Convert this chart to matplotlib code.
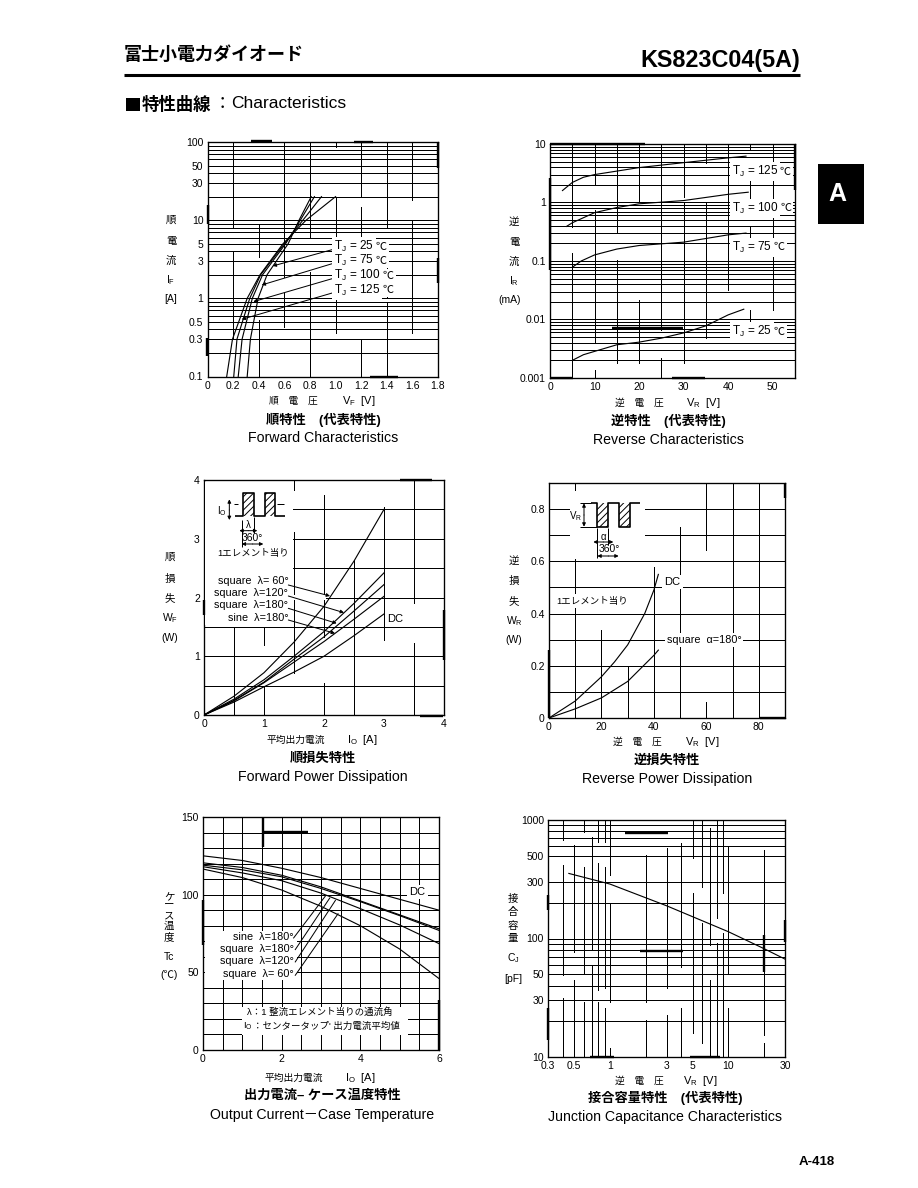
import matplotlib
matplotlib.use("Agg")
import matplotlib.pyplot as plt
from matplotlib.patches import Rectangle
from matplotlib.ticker import FixedLocator, FixedFormatter, NullFormatter

plt.rcParams['font.family'] = ['Liberation Sans', 'Noto Sans CJK JP', 'DejaVu Sans']
plt.rcParams['mathtext.default'] = 'regular'
plt.rcParams['hatch.linewidth'] = 0.7

W, H = 918, 1188
LW = 0.72
K = 'black'

# ---------- data ----------
fwd_i   = [0.1, 0.3, 1, 2, 5, 10, 20]
fwd_t25 = [0.31, 0.335, 0.395, 0.465, 0.63, 0.715, 0.81]
fwd_t75 = [0.24, 0.27, 0.35, 0.43, 0.61, 0.725, 0.835]
fwd_t100 = [0.205, 0.23, 0.33, 0.415, 0.60, 0.745, 0.89]
fwd_t125 = [0.15, 0.195, 0.31, 0.41, 0.59, 0.77, 1.0]

rev_v125 = [2.8, 5, 7.5, 10, 20, 30, 40, 44]
rev_i125 = [1.6, 2.2, 2.7, 3.0, 3.95, 4.8, 5.8, 6.2]
rev_v100 = [3.7, 5, 10, 15, 20, 30, 40, 44.5]
rev_i100 = [0.39, 0.45, 0.67, 0.82, 0.95, 1.08, 1.38, 1.5]
rev_v75 = [5, 7, 10, 15, 20, 30, 40, 44]
rev_i75 = [0.078, 0.1, 0.127, 0.16, 0.184, 0.21, 0.28, 0.3]
rev_v25 = [5, 7.5, 10, 15, 20, 25, 30, 35, 40, 43.5]
rev_i25 = [0.002, 0.0025, 0.00285, 0.0037, 0.0041, 0.0048, 0.0059, 0.0078, 0.012, 0.015]

fpd_io = [0, 0.5, 1, 1.5, 2, 2.5, 3]
fpd_dc = [0, 0.22, 0.48, 0.73, 1.0, 1.35, 1.72]
fpd_sine180 = [0, 0.24, 0.55, 0.90, 1.25, 1.63, 2.02]
fpd_sq180 = [0, 0.25, 0.56, 0.95, 1.33, 1.77, 2.22]
fpd_sq120 = [0, 0.27, 0.60, 1.00, 1.42, 1.90, 2.42]
fpd_sq60 = [0, 0.32, 0.72, 1.24, 1.85, 2.62, 3.5]

rpd_v_dc = [0, 10, 20, 25, 30, 36.5, 40, 41.7]
rpd_w_dc = [0, 0.065, 0.158, 0.215, 0.28, 0.40, 0.49, 0.55]
rpd_v_sq = [0, 10, 20, 30, 35, 40, 41.7]
rpd_w_sq = [0, 0.035, 0.077, 0.14, 0.19, 0.24, 0.26]

oc_io = [0, 1, 2, 3, 4, 5, 6]
oc_dc = [125, 122, 117, 111, 104, 97, 90]
oc_sine180 = [120.5, 117.5, 112.5, 105, 96, 87, 78]
oc_sq180 = [119, 116, 111.5, 104, 95.5, 86.5, 77]
oc_sq120 = [118, 114, 109, 101, 91, 80.5, 68.5]
oc_sq60 = [116.5, 111, 103, 92.5, 80, 65, 46]

cap_v = [0.45, 1, 3, 10, 20, 30]
cap_c = [354, 288, 189, 114, 82, 67]

fig = plt.figure(figsize=(W / 100, H / 100), dpi=100, facecolor='white')


def make_axes(box):
    x0, x1, y0, y1 = box
    ax = fig.add_axes([x0 / W, 1 - y1 / H, (x1 - x0) / W, (y1 - y0) / H])
    for s in ax.spines.values():
        s.set_linewidth(LW + 0.25)
    ax.tick_params(which='both', length=0, labelsize=7.5, pad=3)
    ax.set_axisbelow(True)
    ax.box_px = box
    return ax


def finish(ax, xl, yl, xt, yt, xg, yg, xs=None, ys=None):
    if xs:
        ax.set_xscale('log')
    if ys:
        ax.set_yscale('log')
    ax.set_xlim(*xl)
    ax.set_ylim(*yl)
    ax.xaxis.set_major_locator(FixedLocator([v for v, _ in xt]))
    ax.xaxis.set_major_formatter(FixedFormatter([t for _, t in xt]))
    ax.yaxis.set_major_locator(FixedLocator([v for v, _ in yt]))
    ax.yaxis.set_major_formatter(FixedFormatter([t for _, t in yt]))
    ax.xaxis.set_minor_formatter(NullFormatter())
    ax.yaxis.set_minor_formatter(NullFormatter())
    for v in xg:
        ax.axvline(v, color=K, lw=LW, zorder=1, antialiased=False)
    for v in yg:
        ax.axhline(v, color=K, lw=LW, zorder=1, antialiased=False)
    ax.xaxis.set_minor_locator(FixedLocator([]))
    ax.yaxis.set_minor_locator(FixedLocator([]))


def broken_verticals(ax, oy, table):
    """Draw vertical rules with the gaps of the scan; spans are 3x crop rows."""
    _, _, y0, y1 = ax.box_px
    for v, spans in table:
        for a, b in spans:
            top = (oy + a / 3 - y0) / (y1 - y0)
            bot = (oy + b / 3 - y0) / (y1 - y0)
            ax.axvline(v, ymin=max(0, 1 - bot), ymax=min(1, 1 - top), color=K, lw=LW, zorder=1, antialiased=False)


def curve(ax, x, y):
    ax.plot(x, y, color=K, lw=LW + 0.1, zorder=3, solid_joinstyle='round')


def logs(a, b):
    out = []
    d = a
    while d < b:
        out += [d * m for m in range(1, 10)]
        d *= 10
    return out


# Forward characteristics
ax1 = make_axes((207.5, 438, 142, 376.5))
finish(ax1, (0, 1.8), (0.1, 100),
       [(i * 0.2, t) for i, t in enumerate(['0', '0.2', '0.4', '0.6', '0.8', '1.0', '1.2', '1.4', '1.6', '1.8'])],
       [(0.1, '0.1'), (0.3, '0.3'), (0.5, '0.5'), (1, '1'), (3, '3'), (5, '5'), (10, '10'), (30, '30'), (50, '50'), (100, '100')],
       [], logs(0.1, 100), ys=True)
broken_verticals(ax1, 130, [
    (0.2, [(35, 290), (365, 625)]), (0.4, [(285, 380), (570, 740)]),
    (0.6, [(35, 440), (490, 590)]), (0.8, [(35, 325), (425, 740)]),
    (1.0, [(35, 50), (200, 330), (500, 610)]), (1.2, [(35, 200), (230, 490), (630, 740)]),
    (1.4, [(35, 290), (390, 500), (520, 740)]), (1.6, [(35, 210), (270, 610)]),
])
for s in (fwd_t25, fwd_t75, fwd_t100, fwd_t125):
    curve(ax1, s, fwd_i)

# Reverse characteristics
ax2 = make_axes((550, 795, 144, 378))
finish(ax2, (0, 55), (0.001, 10),
       [(v, str(v)) for v in (0, 10, 20, 30, 40, 50)],
       [(0.001, '0.001'), (0.01, '0.01'), (0.1, '0.1'), (1, '1'), (10, '10')],
       [], logs(0.001, 10), ys=True)
broken_verticals(ax2, 130, [
    (5, [(42, 290), (370, 745)]), (10, [(42, 165), (240, 640), (720, 745)]),
    (15, [(42, 310), (390, 700)]), (20, [(42, 215), (510, 700)]),
    (25, [(42, 345), (345, 600), (685, 745)]), (30, [(42, 200), (220, 700)]),
    (35, [(42, 100), (215, 625)]), (40, [(42, 480)]),
    (45, [(42, 60), (150, 220), (290, 330), (540, 600)]), (50, [(42, 105), (150, 540)]),
])
curve(ax2, rev_v125, rev_i125)
curve(ax2, rev_v100, rev_i100)
curve(ax2, rev_v75, rev_i75)
curve(ax2, rev_v25, rev_i25)

# Forward power dissipation
ax3 = make_axes((204, 444, 480, 715))
finish(ax3, (0, 4), (0, 4),
       [(v, str(v)) for v in range(5)], [(v, str(v)) for v in range(5)],
       [], [i * 0.5 for i in range(1, 8)])
broken_verticals(ax3, 470, [
    (0.5, [(470, 735)]), (1, [(470, 525), (650, 735)]), (1.5, [(30, 60), (185, 610)]),
    (2, [(75, 500), (640, 735)]), (2.5, [(270, 735)]), (3, [(110, 510)]),
    (3.5, [(30, 400), (520, 735)]),
])
for s in (fpd_dc, fpd_sine180, fpd_sq180, fpd_sq120, fpd_sq60):
    curve(ax3, fpd_io, s)

# Reverse power dissipation
ax4 = make_axes((549, 785, 483, 718))
finish(ax4, (0, 90), (0, 0.9),
       [(v, str(v)) for v in (0, 20, 40, 60, 80)],
       [(0, '0'), (0.2, '0.2'), (0.4, '0.4'), (0.6, '0.6'), (0.8, '0.8')],
       [], [i / 10 for i in range(1, 9)])
broken_verticals(ax4, 470, [
    (10, [(38, 60), (260, 745)]), (20, [(480, 745)]), (30, [(590, 745)]),
    (40, [(290, 745)]), (50, [(170, 745)]), (60, [(38, 240), (695, 745)]),
    (70, [(38, 745)]), (80, [(38, 745)]),
])
curve(ax4, rpd_v_dc, rpd_w_dc)
curve(ax4, rpd_v_sq, rpd_w_sq)

# Output current - case temperature
ax5 = make_axes((203, 439, 817, 1050))
finish(ax5, (0, 6), (0, 150),
       [(v, str(v)) for v in (0, 2, 4, 6)],
       [(v, str(v)) for v in (0, 50, 100, 150)],
       [i * 0.5 for i in range(1, 12)], list(range(10, 150, 10)))
for s in (oc_dc, oc_sine180, oc_sq180, oc_sq120, oc_sq60):
    curve(ax5, oc_io, s)

# Junction capacitance
ax6 = make_axes((548, 785, 820, 1057))
finish(ax6, (0.3, 30), (10, 1000),
       [(v, str(v)) for v in (0.3, 0.5, 1, 3, 5, 10, 30)],
       [(v, str(v)) for v in (10, 30, 50, 100, 300, 500, 1000)],
       [], [v for v in logs(10, 1000) if v != 400], xs=True, ys=True)
broken_verticals(ax6, 805, [
    (0.4, [(45, 105), (180, 510), (580, 755)]), (0.5, [(120, 440), (525, 755)]),
    (0.6, [(45, 80), (185, 505), (590, 755)]), (0.7, [(95, 435), (480, 755)]),
    (0.8, [(45, 110), (175, 555), (590, 755)]), (0.9, [(45, 110), (185, 550), (610, 755)]),
    (1, [(45, 210), (295, 590), (730, 755)]), (2, [(150, 590), (645, 755)]),
    (3, [(130, 550), (630, 755)]), (4, [(115, 485), (610, 755)]),
    (5, [(45, 160), (265, 685)]), (6, [(45, 245), (355, 715)]),
    (7, [(70, 420), (525, 755)]), (8, [(45, 340), (415, 755)]),
    (9, [(45, 265), (385, 755)]), (10, [(125, 505), (610, 755)]),
    (20, [(135, 690), (715, 755)]),
])
curve(ax6, cap_v, cap_c)

# ---------- page overlay in page pixels ----------
ov = fig.add_axes([0, 0, 1, 1], zorder=10, facecolor='none')
ov.set_xlim(0, W)
ov.set_ylim(H, 0)
ov.axis('off')
renderer = fig.canvas.get_renderer()


def T(x, y, s, size=7.5, ha='center', weight='normal', box=False, color=K, **kw):
    bb = dict(facecolor='white', edgecolor='none', pad=1.5) if box else None
    return ov.text(x, y, s, fontsize=size, ha=ha, va='center', fontweight=weight, color=color, bbox=bb, **kw)


def L(pts, lw=LW, **kw):
    ov.plot([p[0] for p in pts], [p[1] for p in pts], color=K, lw=lw, solid_capstyle='butt', **kw)


def Arrow(a, b, style='-|>'):
    ov.annotate('', xy=b, xytext=a, arrowprops=dict(arrowstyle=style, color=K, lw=LW, mutation_scale=5, shrinkA=0, shrinkB=0))


def zp(ox, oy, z):
    return (ox + z[0] / 3, oy + z[1] / 3)


def Mask(ox, oy, a, b, c, d):
    ov.add_patch(Rectangle(zp(ox, oy, (a, b)), (c - a) / 3, (d - b) / 3, facecolor='white', edgecolor='none', zorder=1))


def Tj(x, y, s):
    t = T(x, y, 'T$_{J}$ = ' + s, size=8.5, ha='left', box=True)
    x1 = t.get_window_extent(renderer).x1
    T(x1 + 2, y, '℃', size=8, ha='left', box=True)


# Header
T(124, 55, '富士小電力ダイオード', size=13, ha='left', weight='bold')
T(800, 60, 'KS823C04(5A)', size=16.8, ha='right', weight='bold')
L([(124, 75), (800, 75)], lw=2.2)
ov.add_patch(Rectangle((126, 98), 14, 12.5, facecolor=K, edgecolor='none'))
T(142, 104, '特性曲線', size=12.5, ha='left', weight='bold')
T(222, 104, '：', size=12.5, family=['Noto Sans CJK JP'])
T(231, 104, 'Characteristics', size=12.5, ha='left')
ov.add_patch(Rectangle((818, 164), 46, 60, facecolor=K, edgecolor='none'))
T(837, 194, 'A', size=18, weight='bold', color='white')
T(817, 1162, 'A-418', size=9.5, weight='bold')

# Vertical axis names
for x, items in (
    (171, [(220, '順'), (241, '電'), (261, '流'), (280, 'I$_{F}$'), (299, '[A]')]),
    (514, [(222, '逆'), (242, '電'), (262, '流'), (281, 'I$_{R}$')]),
    (170, [(557, '順'), (579, '損'), (598, '失'), (618, 'W$_{F}$'), (638, '(W)')]),
    (514, [(561, '逆'), (581, '損'), (601, '失'), (621, 'W$_{R}$'), (640, '(W)')]),
    (169, [(897, 'ケ'), (906, 'ー'), (915, 'ス'), (926, '温'), (937, '度'), (957, 'Tc'), (975, '(℃)')]),
    (513, [(899, '接'), (912, '合'), (926, '容'), (938, '量'), (958, 'C$_{J}$'), (979, '[pF]')]),
):
    for y, s in items:
        T(x, y, s, size=7.5)
T(510, 300, '(mA)', size=7.5)

# Horizontal axis names
for x1, x2, y, a, b in (
    (293, 359, 401, '順　電　圧', 'V$_{F}$  [V]'),
    (639, 703, 403, '逆　電　圧', 'V$_{R}$  [V]'),
    (296, 362, 740, '平均出力電流', 'I$_{O}$  [A]'),
    (637, 702, 742, '逆　電　圧', 'V$_{R}$  [V]'),
    (294, 360, 1078, '平均出力電流', 'I$_{O}$  [A]'),
    (639, 700, 1081, '逆　電　圧', 'V$_{R}$  [V]'),
):
    T(x1, y, a, size=7)
    T(x2, y, b, size=8)

# Titles
for x, y, a, b in (
    (323, 420, '順特性　(代表特性)', 'Forward Characteristics'),
    (668, 421, '逆特性　(代表特性)', 'Reverse Characteristics'),
    (323, 759, '順損失特性', 'Forward Power Dissipation'),
    (667, 761, '逆損失特性', 'Reverse Power Dissipation'),
    (322, 1096, '出力電流– ケース温度特性', 'Output Current－Case Temperature'),
    (665, 1098, '接合容量特性　(代表特性)', 'Junction Capacitance Characteristics'),
):
    T(x, y, a, size=9.5, weight='bold')
    T(x, y + 18.5, b, size=10.2)

# Forward characteristics labels and leaders
for zy, s, tip in ((350, '25', (338, 408)), (392, '75', (305, 465)), (437, '100', (280, 515)), (480, '125', (245, 568))):
    Arrow(zp(160, 130, (520, zy + 8)), zp(160, 130, tip))
    Tj(160 + 522 / 3, 130 + zy / 3, s)

# Reverse characteristics labels
for zy, s in ((125, '125'), (235, '100'), (352, '75'), (605, '25')):
    Tj(500 + 695 / 3, 130 + zy / 3, s)

# Forward power dissipation inset
o = (160, 470)
P = lambda a, b: zp(o[0], o[1], (a, b))
Mask(o[0], o[1], 135, 35, 400, 465)
Mask(o[0], o[1], 400, 375, 498, 390)
L([P(225, 137), P(248, 137), P(248, 68), P(282, 68), P(282, 137), P(314, 137), P(314, 68), P(345, 68), P(345, 137), P(375, 137)], lw=1.2)
for a, b in ((248, 282), (314, 345)):
    ov.add_patch(Rectangle(P(a, 68), (b - a) / 3, 69 / 3, facecolor='none', edgecolor=K, lw=0, hatch='/////'))
Arrow(P(208, 120), P(208, 88))
Arrow(P(208, 120), P(208, 150))
L([P(222, 103), P(235, 103)])
L([P(350, 103), P(372, 103)])
Arrow(P(265, 182), P(238, 182))
Arrow(P(265, 182), P(292, 182))
Arrow(P(278, 222), P(245, 222))
Arrow(P(278, 222), P(310, 222))
L([P(245, 150), P(245, 230)])
L([P(282, 140), P(282, 190)])
T(*P(185, 122), 'I$_{O}$', size=7)
T(*P(265, 165), 'λ', size=7)
T(*P(278, 205), '360°', size=7.5)
T(*P(280, 250), '1エレメント当り', size=6.8)
for zy, s, a, b in (
    (332, 'square  λ= 60°', (385, 345), (510, 378)),
    (370, 'square  λ=120°', (385, 378), (552, 428)),
    (405, 'square  λ=180°', (385, 415), (530, 460)),
    (445, 'sine  λ=180°', (385, 450), (525, 490)),
):
    Arrow(P(*a), P(*b))
    T(*P(385, zy), s, size=7.8, ha='right')
T(*P(707, 447), 'DC', size=8, box=True)

# Reverse power dissipation inset
o = (500, 470)
P = lambda a, b: zp(o[0], o[1], (a, b))
Mask(o[0], o[1], 210, 85, 435, 268)
L([P(272, 100), P(292, 100), P(292, 170), P(325, 170), P(325, 100), P(358, 100), P(358, 170), P(390, 170), P(390, 100), P(420, 100)], lw=1.2)
for a, b in ((292, 325), (358, 390)):
    ov.add_patch(Rectangle(P(a, 100), (b - a) / 3, 70 / 3, facecolor='none', edgecolor=K, lw=0, hatch='/////'))
Arrow(P(252, 135), P(252, 100))
Arrow(P(252, 135), P(252, 170))
L([P(240, 100), P(272, 100)])
L([P(240, 170), P(290, 170)])
Arrow(P(310, 216), P(280, 216))
Arrow(P(310, 216), P(340, 216))
Arrow(P(325, 258), P(292, 258))
Arrow(P(325, 258), P(356, 258))
L([P(292, 175), P(292, 265)])
L([P(325, 175), P(325, 225)])
T(*P(228, 138), 'V$_{R}$', size=7)
T(*P(310, 200), 'α', size=7)
T(*P(327, 238), '360°', size=7.5)
T(*P(277, 393), '1エレメント当り', size=6.8, box=True)
T(*P(518, 335), 'DC', size=8, box=True)
T(*P(612, 510), 'square  α=180°', size=7.8, box=True)

# Output current labels
o = (160, 805)
P = lambda a, b: zp(o[0], o[1], (a, b))
Mask(o[0], o[1], 135, 378, 410, 525)
for zy, s, a, b in (
    (395, 'sine  λ=180°', (400, 400), (497, 272)),
    (432, 'square  λ=180°', (405, 435), (510, 278)),
    (468, 'square  λ=120°', (405, 472), (527, 285)),
    (508, 'square  λ= 60°', (405, 512), (535, 325)),
):
    L([P(*a), P(*b)])
    T(*P(402, zy), s, size=7.8, ha='right')
T(*P(773, 262), 'DC', size=8, box=True)
Mask(o[0], o[1], 245, 605, 745, 690)
T(*P(262, 622), 'λ：1 整流エレメント当りの通流角', size=6.8, ha='left')
t = T(*P(250, 665), 'I$_{O}$', size=6.8, ha='left')
T(t.get_window_extent(renderer).x1, P(250, 665)[1], '：センタータップ\' 出力電流平均値', size=6.8, ha='left')

# Heavy stretches of the frames left by the scan
for pts in (
    ((251, 141), (272, 141)), ((354, 141.5), (373, 141.5)), ((370, 377), (398, 377)),
    ((438, 142), (438, 168)), ((438, 258), (438, 283)), ((208, 205), (208, 224)), ((207, 338), (207, 356)),
    ((550, 144), (645, 144)), ((550, 378), (573, 378)), ((672, 378), (705, 378)), ((795, 144), (795, 190)),
    ((550, 178), (550, 270)), ((612, 328), (683, 328)),
    ((444, 610), (444, 660)), ((204, 600), (204, 615)), ((400, 480), (432, 480)), ((420, 716), (443, 716)),
    ((785, 483), (785, 498)), ((760, 718), (785, 718)), ((549, 650), (549, 718)),
    ((439, 1000), (439, 1050)), ((203, 900), (203, 945)), ((263, 817), (263, 847)), ((263, 832), (308, 832)),
    ((548, 895), (548, 910)), ((548, 1008), (548, 1040)), ((785, 920), (785, 942)), ((764, 935), (764, 972)),
    ((590, 1057), (614, 1057)), ((690, 1057), (720, 1057)), ((640, 951), (683, 951)), ((625, 833), (668, 833)),
):
    L(pts, lw=1.7)

fig.savefig('out.png', dpi=100, facecolor='white')
